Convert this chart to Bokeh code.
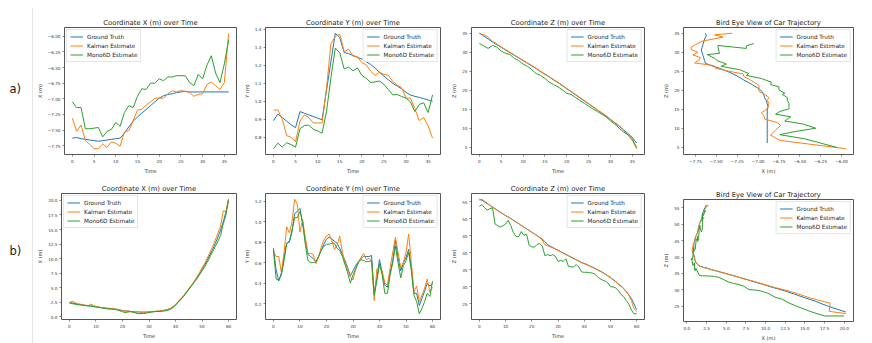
from bokeh.plotting import figure
from bokeh.layouts import row, column
from bokeh.models import Range1d, FixedTicker, Legend, LegendItem, Label, Span
from bokeh.embed import file_html
from bokeh.resources import INLINE

# ---------------- data: sequence a) (37 frames) ----------------
time_a = list(range(0, 37))
gt_x_a = [-7.63, -7.62, -7.64, -7.65, -7.66, -7.67, -7.68, -7.67, -7.66, -7.65,
          -7.64, -7.63, -7.55, -7.45, -7.36, -7.29, -7.23, -7.17, -7.11, -7.05,
          -6.99, -6.95, -6.93, -6.92, -6.90, -6.89, -6.88, -6.89, -6.89, -6.89,
          -6.89, -6.89, -6.89, -6.89, -6.89, -6.89, -6.89]
kf_x_a = [-7.31, -7.52, -7.42, -7.67, -7.73, -7.80, -7.80, -7.72, -7.78, -7.69,
          -7.71, -7.76, -7.53, -7.51, -7.35, -7.18, -7.17, -7.10, -7.05, -6.99,
          -6.99, -6.99, -6.92, -6.87, -6.89, -6.87, -6.88, -6.90, -6.96, -6.93,
          -6.92, -6.77, -6.73, -6.79, -6.85, -6.74, -5.95]
m6_x_a = [-7.05, -7.14, -7.14, -7.48, -7.48, -7.47, -7.46, -7.61, -7.52, -7.49,
          -7.38, -7.44, -7.22, -7.11, -7.14, -6.96, -6.84, -6.85, -6.75, -6.75,
          -6.68, -6.71, -6.65, -6.65, -6.63, -6.63, -6.63, -6.74, -6.79, -6.61,
          -6.68, -6.46, -6.31, -6.59, -6.74, -6.44, -6.05]
gt_y_a = [0.893, 0.929, 0.91, 0.89, 0.87, 0.854, 0.943, 0.934, 0.925, 0.916,
          0.907, 0.898, 1.06, 1.22, 1.378, 1.355, 1.271, 1.265, 1.255, 1.245,
          1.235, 1.22, 1.205, 1.185, 1.16, 1.14, 1.12, 1.10, 1.085, 1.07,
          1.05, 1.035, 1.028, 1.022, 1.015, 1.008, 1.0]
kf_y_a = [0.952, 0.952, 0.90, 0.81, 0.80, 0.777, 0.89, 0.925, 0.91, 0.88,
          0.88, 0.88, 1.07, 1.32, 1.36, 1.373, 1.275, 1.29, 1.25, 1.248,
          1.215, 1.203, 1.167, 1.144, 1.162, 1.15, 1.144, 1.11, 1.09, 1.077,
          1.018, 1.018, 0.96, 0.893, 0.91, 0.863, 0.796]
m6_y_a = [0.737, 0.768, 0.746, 0.77, 0.76, 0.746, 0.848, 0.866, 0.868, 0.845,
          0.836, 0.823, 0.943, 1.13, 1.296, 1.27, 1.18, 1.19, 1.17, 1.185,
          1.144, 1.128, 1.104, 1.108, 1.113, 1.095, 1.065, 1.036, 1.038, 1.027,
          1.018, 0.997, 0.943, 0.983, 0.992, 0.938, 1.036]
gt_z_a = [35.0, 34.3, 33.5, 32.7, 32.0, 31.3, 30.6, 29.9, 29.2, 28.5,
          27.8, 27.1, 26.4, 25.7, 24.9, 24.2, 23.5, 22.7, 22.0, 21.2,
          20.4, 19.6, 18.8, 18.0, 17.2, 16.4, 15.6, 14.8, 14.0, 13.2,
          12.3, 11.4, 10.5, 9.6, 8.6, 7.6, 6.1]
kf_z_a = [35.0, 34.6, 34.0, 32.9, 32.2, 31.4, 30.7, 30.0, 29.3, 28.6,
          27.9, 27.2, 26.5, 25.8, 25.0, 24.3, 23.6, 22.8, 22.1, 21.3,
          20.5, 19.7, 18.9, 18.1, 17.3, 16.5, 15.7, 14.9, 14.1, 13.3,
          12.4, 11.5, 10.7, 9.5, 8.2, 6.8, 4.6]
m6_z_a = [32.3, 31.7, 31.0, 31.8, 31.4, 30.3, 29.7, 29.4, 28.4, 27.8,
          26.9, 26.3, 25.4, 24.4, 23.9, 23.1, 22.1, 21.5, 20.9, 20.1,
          19.2, 18.9, 18.1, 17.3, 16.6, 15.8, 15.1, 14.4, 13.7, 13.0,
          11.9, 11.1, 10.0, 9.0, 8.3, 7.2, 4.9]

# ---------------- data: sequence b) (61 frames) ----------------
time_b = list(range(0, 61))
gt_x_b = [2.5, 2.4, 2.3, 2.2, 2.1, 2.05, 2.0, 1.95, 1.9, 1.85,
          1.75, 1.7, 1.6, 1.55, 1.5, 1.45, 1.4, 1.35, 1.3, 1.2,
          1.1, 1.05, 1.0, 0.95, 0.9, 0.88, 0.86, 0.85, 0.85, 0.85,
          0.87, 0.9, 0.93, 0.97, 1.0, 1.05, 1.15, 1.25, 1.4, 1.7,
          2.1, 2.6, 3.1, 3.6, 4.2, 4.8, 5.4, 6.0, 6.7, 7.4,
          8.1, 8.9, 9.8, 10.7, 11.6, 12.6, 13.7, 14.9, 16.3, 18.0, 20.2]
kf_x_b = [2.4, 2.7, 2.5, 2.3, 2.2, 2.1, 2.0, 1.9, 2.2, 2.0,
          1.8, 1.7, 1.6, 1.6, 1.5, 1.5, 1.45, 1.4, 1.3, 1.2,
          1.1, 1.0, 1.05, 0.95, 0.8, 0.7, 0.6, 0.75, 0.7, 0.8,
          0.85, 0.9, 0.95, 1.0, 1.05, 1.1, 1.2, 1.3, 1.45, 1.75,
          2.15, 2.65, 3.15, 3.65, 4.25, 4.85, 5.45, 6.1, 6.8, 7.6,
          8.4, 9.2, 10.1, 11.1, 12.1, 13.2, 14.4, 15.6, 18.2, 18.1, 20.2]
m6_x_b = [2.4, 2.3, 2.2, 2.1, 2.1, 2.0, 1.95, 1.9, 1.85, 1.8,
          1.7, 1.65, 1.55, 1.5, 1.4, 1.35, 1.35, 1.3, 1.2, 1.05,
          0.9, 0.75, 0.85, 0.9, 0.85, 0.7, 0.55, 0.6, 0.6, 0.65,
          0.75, 0.85, 0.9, 0.95, 0.95, 1.0, 1.05, 1.15, 1.3, 1.6,
          2.0, 2.5, 3.0, 3.5, 4.1, 4.7, 5.3, 5.9, 6.5, 7.2,
          7.9, 8.6, 9.4, 10.3, 11.2, 12.1, 13.0, 14.0, 16.0, 17.5, 20.0]
gt_y_b = [0.74, 0.53, 0.42, 0.50, 0.65, 0.79, 0.80, 0.90, 1.08, 1.10,
          1.13, 0.98, 0.82, 0.68, 0.66, 0.64, 0.61, 0.66, 0.72, 0.78,
          0.83, 0.85, 0.83, 0.81, 0.79, 0.74, 0.68, 0.62, 0.55, 0.47,
          0.52, 0.57, 0.61, 0.64, 0.66, 0.66, 0.66, 0.67, 0.30, 0.45,
          0.63, 0.50, 0.38, 0.36, 0.50, 0.62, 0.82, 0.65, 0.52, 0.60,
          0.65, 0.73, 0.55, 0.30, 0.30, 0.18, 0.25, 0.32, 0.40, 0.37, 0.40]
kf_y_b = [0.71, 0.66, 0.66, 0.50, 0.70, 0.95, 0.89, 1.00, 1.22, 1.17,
          0.90, 1.02, 0.85, 0.69, 0.69, 0.68, 0.59, 0.65, 0.75, 0.82,
          0.86, 0.88, 0.82, 0.73, 0.77, 0.86, 0.70, 0.60, 0.53, 0.46,
          0.43, 0.53, 0.60, 0.65, 0.69, 0.63, 0.64, 0.62, 0.23, 0.54,
          0.56, 0.52, 0.40, 0.38, 0.55, 0.70, 0.85, 0.70, 0.55, 0.60,
          0.70, 0.88, 0.60, 0.32, 0.37, 0.22, 0.28, 0.35, 0.44, 0.31, 0.36]
m6_y_b = [0.72, 0.44, 0.43, 0.48, 0.62, 0.79, 0.81, 0.92, 1.04, 1.04,
          1.10, 1.00, 0.78, 0.62, 0.60, 0.60, 0.61, 0.66, 0.72, 0.76,
          0.78, 0.78, 0.79, 0.79, 0.74, 0.72, 0.66, 0.58, 0.50, 0.40,
          0.48, 0.54, 0.60, 0.63, 0.62, 0.61, 0.61, 0.62, 0.28, 0.42,
          0.59, 0.48, 0.30, 0.30, 0.48, 0.60, 0.76, 0.60, 0.45, 0.57,
          0.62, 0.70, 0.52, 0.28, 0.22, 0.10, 0.15, 0.22, 0.30, 0.27, 0.42]
gt_z_b = [55.8, 55.5, 55.0, 54.5, 54.0, 53.5, 53.0, 52.5, 52.0, 51.5,
          51.0, 50.6, 50.1, 49.6, 49.1, 48.6, 48.1, 47.6, 47.1, 46.6,
          46.1, 45.6, 45.1, 44.6, 44.1, 43.3, 42.5, 42.0, 41.6, 41.2,
          40.8, 40.4, 40.0, 39.6, 39.2, 38.8, 38.4, 38.0, 37.6, 37.2,
          36.9, 36.6, 36.2, 35.9, 35.5, 35.1, 34.7, 34.3, 33.8, 33.3,
          32.8, 32.2, 31.6, 30.9, 30.3, 29.6, 28.7, 27.7, 26.6, 25.0, 23.3]
kf_z_b = [55.5, 55.8, 55.2, 54.6, 54.0, 53.5, 53.0, 52.4, 51.9, 51.5,
          51.0, 50.5, 50.1, 49.6, 49.1, 48.6, 48.1, 47.6, 47.1, 46.6,
          46.1, 45.6, 45.1, 44.5, 43.8, 42.4, 42.1, 41.8, 41.5, 41.1,
          40.7, 40.3, 39.9, 39.5, 39.1, 38.7, 38.3, 37.9, 37.5, 37.1,
          36.8, 36.5, 36.1, 35.8, 35.4, 35.0, 34.6, 34.2, 33.7, 33.2,
          32.7, 32.1, 31.5, 30.8, 30.2, 29.5, 28.6, 27.6, 26.0, 23.5, 22.8]
m6_z_b = [53.7, 54.2, 53.3, 52.6, 53.0, 53.3, 48.5, 48.0, 47.6, 48.0,
          48.5, 49.6, 48.0, 46.0, 44.8, 44.8, 46.3, 45.2, 45.5, 42.3,
          41.8, 41.7, 42.5, 42.8, 42.0, 39.2, 39.5, 39.2, 39.5, 39.0,
          37.5, 37.8, 37.5, 38.3, 36.0, 35.9, 35.9, 36.6, 35.8, 34.4,
          34.3, 34.3, 34.2, 34.1, 33.8, 33.1, 32.4, 32.0, 31.7, 31.2,
          30.1, 30.0, 29.7, 29.0, 27.8, 27.2, 26.0, 25.0, 23.2, 22.1, 22.1]

# ---------------- ticks / labels ----------------
series_names = ["Ground Truth", "Kalman Estimate", "Mono6D Estimate"]
series_colors = ["#1f77b4", "#ff7f0e", "#2ca02c"]
time_ticks_a = [0, 5, 10, 15, 20, 25, 30, 35]
time_ticks_b = [0, 10, 20, 30, 40, 50, 60]
x_ticks_a = [-7.75, -7.5, -7.25, -7.0, -6.75, -6.5, -6.25, -6.0]
x_labels_a = ["\u22127.75", "\u22127.50", "\u22127.25", "\u22127.00", "\u22126.75", "\u22126.50", "\u22126.25", "\u22126.00"]
y_ticks_a = [0.8, 0.9, 1.0, 1.1, 1.2, 1.3, 1.4]
y_labels_a = ["0.8", "0.9", "1.0", "1.1", "1.2", "1.3", "1.4"]
z_ticks_a = [5, 10, 15, 20, 25, 30, 35]
x_ticks_b = [0, 2.5, 5, 7.5, 10, 12.5, 15, 17.5, 20]
x_labels_b = ["0.0", "2.5", "5.0", "7.5", "10.0", "12.5", "15.0", "17.5", "20.0"]
y_ticks_b = [0.2, 0.4, 0.6, 0.8, 1.0, 1.2]
y_labels_b = ["0.2", "0.4", "0.6", "0.8", "1.0", "1.2"]
z_ticks_b = [25, 30, 35, 40, 45, 50, 55]
row_labels = ["a)", "b)"]

FONT = "DejaVu Sans"
TXT = "#333333"
SEP = "#d4d4d4"


def ticker(axis, ticks, labels=None):
    axis.ticker = FixedTicker(ticks=ticks)
    if labels is not None:
        axis.major_label_overrides = {t: l for t, l in zip(ticks, labels)}


def make_fig(width, height, left, right, top, bottom, title, xlabel, ylabel,
             xs, ys, legend_loc, xt, xl, yt, yl):
    p = figure(width=width, height=height, min_border_left=left, min_border_right=right,
               min_border_top=top, min_border_bottom=bottom, title=title,
               output_backend="svg", toolbar_location=None)
    p.title.text_font = FONT
    p.title.text_font_size = "6.8px"
    p.title.text_font_style = "normal"
    p.title.text_color = "#222222"
    p.title.align = "center"
    p.title.standoff = 2
    p.xgrid.visible = False
    p.ygrid.visible = False
    p.outline_line_color = "#555555"
    p.outline_line_width = 1
    p.x_range.range_padding = 0.1
    p.y_range.range_padding = 0.1
    for ax in (p.xaxis[0], p.yaxis[0]):
        ax.axis_line_color = None
        ax.major_tick_out = 2
        ax.major_tick_in = 0
        ax.minor_tick_line_color = None
        ax.major_tick_line_color = "#555555"
        ax.major_tick_line_width = 0.7
        ax.major_label_text_font = FONT
        ax.major_label_text_font_size = "4.2px"
        ax.major_label_text_color = TXT
        ax.major_label_standoff = 2
        ax.axis_label_text_font = FONT
        ax.axis_label_text_font_size = "5px"
        ax.axis_label_text_font_style = "normal"
        ax.axis_label_text_color = TXT
        ax.axis_label_standoff = 2
    p.xaxis[0].axis_label = xlabel
    p.yaxis[0].axis_label = ylabel
    ticker(p.xaxis[0], xt, xl)
    ticker(p.yaxis[0], yt, yl)
    items = []
    for x, y, name, col in zip(xs, ys, series_names, series_colors):
        r = p.line(x, y, line_color=col, line_width=1)
        items.append(LegendItem(label=name, renderers=[r]))
    lg = Legend(items=items, location=legend_loc)
    lg.label_text_font = FONT
    lg.label_text_font_size = "5.7px"
    lg.label_text_color = "#222222"
    lg.glyph_width = 13
    lg.glyph_height = 7
    lg.label_height = 7
    lg.label_standoff = 4
    lg.spacing = 2
    lg.padding = 3
    lg.margin = 2
    lg.border_line_color = "#cccccc"
    lg.border_line_width = 1
    lg.background_fill_alpha = 0.85
    p.add_layout(lg)
    return p


def line_fig(width, height, left, right, dim, top=0):
    f = figure(width=width, height=height, x_range=Range1d(0, 1), y_range=Range1d(0, 1),
               min_border_left=left, min_border_right=right, min_border_top=top, min_border_bottom=0,
               x_axis_location=None, y_axis_location=None,
               output_backend="svg", toolbar_location=None)
    f.xgrid.visible = False
    f.ygrid.visible = False
    f.outline_line_color = None
    loc = 0.5
    f.add_layout(Span(location=loc, dimension=dim, line_color=SEP, line_width=1.2))
    return f


# middle block (three time-series columns), x 33..660
top_line = line_fig(627, 8, 0, 10, "width")
a1 = make_fig(207, 168, 28, 4, 19, 19, "Coordinate X (m) over Time", "Time", "X (m)",
              [time_a] * 3, [gt_x_a, kf_x_a, m6_x_a], "top_left", time_ticks_a, None, x_ticks_a, x_labels_a)
a2 = make_fig(208, 168, 25, 8, 19, 19, "Coordinate Y (m) over Time", "Time", "Y (m)",
              [time_a] * 3, [gt_y_a, kf_y_a, m6_y_a], "top_right", time_ticks_a, None, y_ticks_a, y_labels_a)
a3 = make_fig(212, 168, 21, 16, 19, 19, "Coordinate Z (m) over Time", "Time", "Z (m)",
              [time_a] * 3, [gt_z_a, kf_z_a, m6_z_a], "top_right", time_ticks_a, None, z_ticks_a, None)
b1 = make_fig(207, 165, 28, 4, 17, 18, "Coordinate X (m) over Time", "Time", "X (m)",
              [time_b] * 3, [gt_x_b, kf_x_b, m6_x_b], "top_left", time_ticks_b, None, x_ticks_b, x_labels_b)
b2 = make_fig(208, 165, 25, 8, 17, 18, "Coordinate Y (m) over Time", "Time", "Y (m)",
              [time_b] * 3, [gt_y_b, kf_y_b, m6_y_b], "top_right", time_ticks_b, None, y_ticks_b, y_labels_b)
b3 = make_fig(212, 165, 21, 16, 17, 18, "Coordinate Z (m) over Time", "Time", "Z (m)",
              [time_b] * 3, [gt_z_b, kf_z_b, m6_z_b], "top_right", time_ticks_b, None, z_ticks_b, None)
bottom_line = line_fig(627, 2, 0, 10, "width")
middle = column(top_line, row(a1, a2, a3), row(b1, b2, b3), bottom_line)

# right block (bird eye views), x 660..872
a4 = make_fig(212, 176, 17, 19, 27, 19, "Bird Eye View of Car Trajectory", "X (m)", "Z (m)",
              [gt_x_a, kf_x_a, m6_x_a], [gt_z_a, kf_z_a, m6_z_a], "top_right", x_ticks_a, x_labels_a, z_ticks_a, None)
mid_line = line_fig(212, 2, 7, 0, "width")
b4 = make_fig(212, 165, 17, 19, 21, 16, "Bird Eye View of Car Trajectory", "X (m)", "Z (m)",
              [gt_x_b, kf_x_b, m6_x_b], [gt_z_b, kf_z_b, m6_z_b], "top_right", x_ticks_b, x_labels_b, z_ticks_b, None)
right = column(a4, mid_line, b4)

# left strip with row labels and the thin vertical rule, x 0..33
side = figure(width=33, height=343, x_range=Range1d(0, 33), y_range=Range1d(0, 336),
              min_border_left=0, min_border_right=0, min_border_top=7, min_border_bottom=0,
              x_axis_location=None, y_axis_location=None,
              output_backend="svg", toolbar_location=None)
side.xgrid.visible = False
side.ygrid.visible = False
side.outline_line_color = None
for txt, yy in zip(row_labels, (255, 93)):
    side.add_layout(Label(x=9, y=yy, text=txt, text_font=FONT, text_font_size="11.5px",
                          text_baseline="middle", text_color="#222222"))
side.add_layout(Span(location=32.5, dimension="height", line_color=SEP, line_width=1.2))

layout = row(side, middle, right)

open("out.html", "w").write(file_html(layout, INLINE))
